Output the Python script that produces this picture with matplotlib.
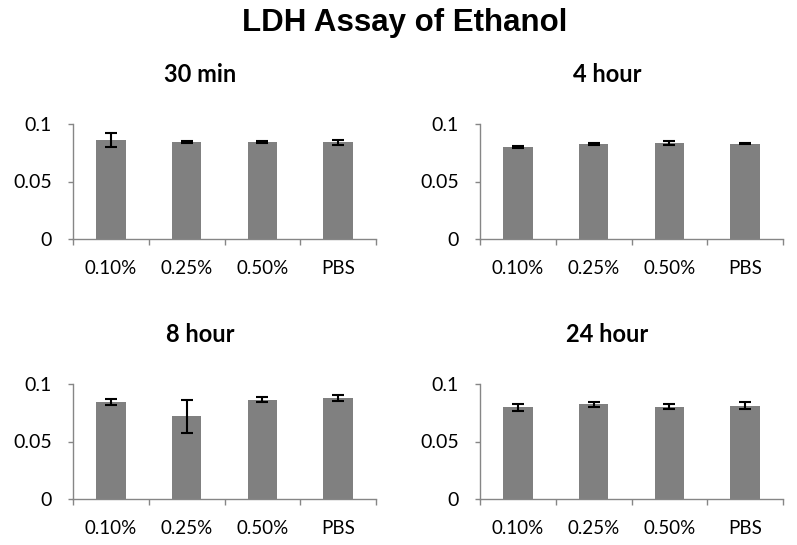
import matplotlib
matplotlib.use("Agg")
import matplotlib.pyplot as plt
import numpy as np

categories = ["0.10%", "0.25%", "0.50%", "PBS"]
panel_titles = ["30 min", "4 hour", "8 hour", "24 hour"]

vals_30min = [0.0861, 0.0843, 0.0843, 0.0843]
err_30min = [0.0060, 0.0012, 0.0005, 0.0022]
vals_4h = [0.0797, 0.0829, 0.0838, 0.0829]
err_4h = [0.0008, 0.0008, 0.0017, 0.0005]
vals_8h = [0.0846, 0.0719, 0.0864, 0.0878]
err_8h = [0.0025, 0.0142, 0.0020, 0.0023]
vals_24h = [0.0797, 0.0823, 0.0803, 0.0812]
err_24h = [0.0029, 0.0020, 0.0020, 0.0029]

yticks = [0, 0.05, 0.1]
ytick_labels = ["0", "0.05", "0.1"]

values = [vals_30min, vals_4h, vals_8h, vals_24h]
errors = [err_30min, err_4h, err_8h, err_24h]

W, H = 797, 545
fig = plt.figure(figsize=(W / 100, H / 100), dpi=100)
fig.patch.set_facecolor("white")

# axes pixel boxes: (left, top of 0.1)
boxes = [(73, 124), (480, 124), (73, 384), (480, 384)]
aw, ah = 303, 115

axis_gray = "#868686"
bar_gray = "#808080"

fig.text(405 / W, 1 - 23 / H, "LDH Assay of Ethanol", ha="center", va="center",
         fontsize=22.5, fontweight="bold", family=["Liberation Sans", "DejaVu Sans"])

for i, (lx, ty) in enumerate(boxes):
    ax = fig.add_axes([lx / W, 1 - (ty + ah) / H, aw / W, ah / H])
    x = np.arange(len(categories))
    ax.bar(x, values[i], width=0.39, color=bar_gray, zorder=2)
    ax.errorbar(x, values[i], yerr=errors[i], fmt="none", ecolor="black",
                elinewidth=1.5, capsize=4.5, capthick=1.5, zorder=3)
    ax.set_xlim(-0.5, len(categories) - 0.5)
    ax.set_ylim(0, 0.1)
    ax.set_yticks(yticks)
    ax.set_yticklabels(ytick_labels, family=["Lato", "DejaVu Sans"], fontsize=14)
    ax.set_xticks(x)
    ax.set_xticklabels(categories, family=["Lato", "DejaVu Sans"], fontsize=13.5)
    ax.set_xticks(np.arange(-0.5, len(categories), 1.0), minor=True)
    ax.tick_params(axis="x", which="major", length=0, pad=15)
    ax.tick_params(axis="x", which="minor", length=4.3, width=1, color=axis_gray, direction="out")
    ax.tick_params(axis="y", which="major", length=3.6, width=1, color=axis_gray, direction="out", pad=11.5)
    for s in ["top", "right"]:
        ax.spines[s].set_visible(False)
    for s in ["left", "bottom"]:
        ax.spines[s].set_color(axis_gray)
        ax.spines[s].set_linewidth(1)
    ax.set_facecolor("white")
    ax.text(0.42, 1 + 49 / ah, panel_titles[i], transform=ax.transAxes,
            ha="center", va="center", fontsize=17, fontweight="bold",
            family=["Lato", "DejaVu Sans"])

fig.savefig("out.png", dpi=100, facecolor="white")
